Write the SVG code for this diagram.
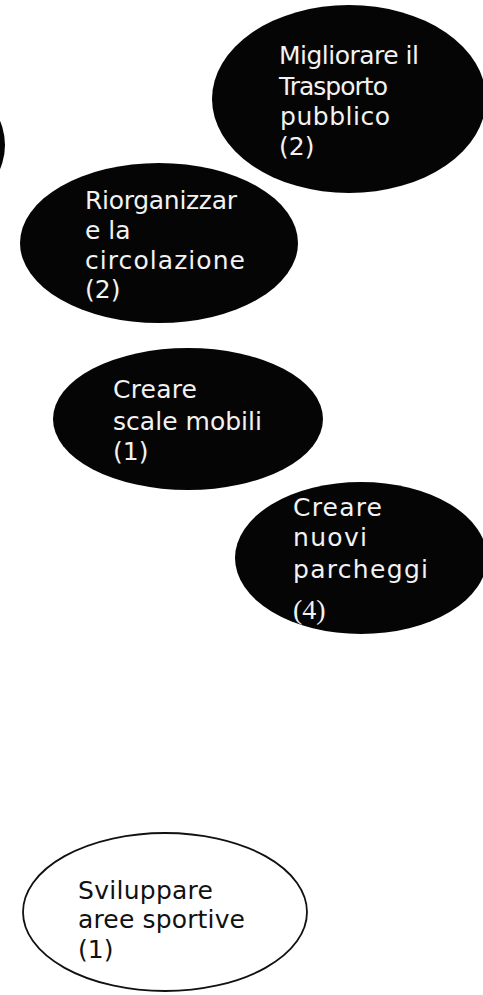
<svg xmlns="http://www.w3.org/2000/svg" width="483" height="995" viewBox="0 0 483 995">
  <style>
    .dark { fill: #050505; }
    .light { fill: #ffffff; stroke: #111111; stroke-width: 1.8; }
    .wt { fill: #f2f2f2; font-family: "DejaVu Sans", "Liberation Sans", sans-serif; font-size: 25px; }
    .bt { fill: #111111; font-family: "DejaVu Sans", "Liberation Sans", sans-serif; font-size: 25px; }
    .serif { font-family: "Liberation Serif", "DejaVu Serif", serif; font-size: 28px; }
  </style>
  <rect width="483" height="995" fill="#ffffff"/>
  <g id="connectors"/>
  <g id="node-partial">
    <ellipse class="dark" cx="-130" cy="145" rx="135" ry="90"/>
  </g>
  <g id="node-trasporto">
    <ellipse class="dark" cx="349" cy="99" rx="137" ry="94"/>
    <text class="wt" x="279" y="64" textLength="140">Migliorare il</text>
    <text class="wt" x="279" y="95" textLength="109">Trasporto</text>
    <text class="wt" x="280" y="125" textLength="110">pubblico</text>
    <text class="wt" x="279" y="155">(2)</text>
  </g>
  <g id="node-circolazione">
    <ellipse class="dark" cx="159" cy="243" rx="139" ry="80"/>
    <text class="wt" x="85" y="209" textLength="152">Riorganizzar</text>
    <text class="wt" x="85" y="239">e la</text>
    <text class="wt" x="85" y="269" textLength="160">circolazione</text>
    <text class="wt" x="85" y="298">(2)</text>
  </g>
  <g id="node-scale">
    <ellipse class="dark" cx="188" cy="419" rx="135" ry="71"/>
    <text class="wt" x="113" y="398" textLength="84">Creare</text>
    <text class="wt" x="113" y="430" textLength="149">scale mobili</text>
    <text class="wt" x="113" y="460">(1)</text>
  </g>
  <g id="node-parcheggi">
    <ellipse class="dark" cx="361" cy="558" rx="126" ry="76"/>
    <text class="wt" x="293" y="516" textLength="89">Creare</text>
    <text class="wt" x="293" y="546" textLength="74">nuovi</text>
    <text class="wt" x="293" y="578" textLength="135">parcheggi</text>
    <text class="wt serif" x="293" y="619">(4)</text>
  </g>
  <g id="node-sportive">
    <ellipse class="light" cx="165" cy="912" rx="142" ry="79"/>
    <text class="bt" x="78" y="899" textLength="135">Sviluppare</text>
    <text class="bt" x="78" y="928" textLength="167">aree sportive</text>
    <text class="bt" x="78" y="958">(1)</text>
  </g>
</svg>
